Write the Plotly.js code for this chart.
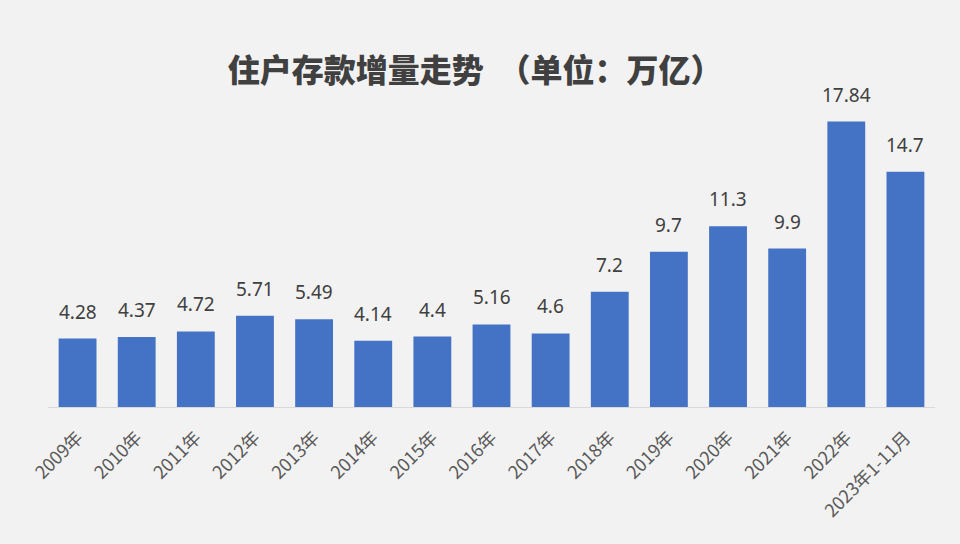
<!DOCTYPE html>
<html><head><meta charset="utf-8">
<script src="https://cdn.plot.ly/plotly-3.0.1.min.js"></script>
<style>html,body{margin:0;padding:0;background:#f2f2f2;}</style>
</head><body>
<div id="chart" style="width:960px;height:544px;"></div>
<script>
const categories = ["2009年","2010年","2011年","2012年","2013年","2014年","2015年","2016年","2017年","2018年","2019年","2020年","2021年","2022年","2023年1-11月"];
const values = [4.28,4.37,4.72,5.71,5.49,4.14,4.4,5.16,4.6,7.2,9.7,11.3,9.9,17.84,14.7];
const labels = ["4.28","4.37","4.72","5.71","5.49","4.14","4.4","5.16","4.6","7.2","9.7","11.3","9.9","17.84","14.7"];

const trace = {
  type: 'bar', x: categories, y: values,
  marker: {color: '#4472C4'},
  hoverinfo: 'x+y'
};
const annotations = categories.map((c, i) => ({
  x: c, y: values[i], text: labels[i], showarrow: false,
  xanchor: 'center', yanchor: 'bottom', yshift: 12,
  font: {family: '"Noto Sans", "Noto Sans CJK SC", sans-serif', size: 19, color: '#404040'}
}));
const layout = {
  width: 960, height: 544,
  paper_bgcolor: '#f2f2f2', plot_bgcolor: '#f2f2f2',
  margin: {l: 48, r: 25, t: 87, b: 137},
  bargap: 0.36,
  showlegend: false,
  title: {text: '住户存款增量走势  （单位：万亿）', x: 0.495, xanchor: 'center', y: 0.87, yanchor: 'middle',
          font: {family: '"Noto Sans CJK SC", sans-serif', size: 32, color: '#404040', weight: 900}},
  xaxis: {type: 'category', tickangle: -45, showline: true, linecolor: '#d9d9d9', linewidth: 1,
          ticks: '', showgrid: false, ticklabelstandoff: 12,
          tickfont: {family: '"Noto Sans CJK SC", sans-serif', size: 18, color: '#595959'}},
  yaxis: {range: [0, 20], visible: false, showgrid: false, zeroline: false},
  annotations: annotations
};
Plotly.newPlot('chart', [trace], layout, {displayModeBar: false, staticPlot: true});
</script>
</body></html>
